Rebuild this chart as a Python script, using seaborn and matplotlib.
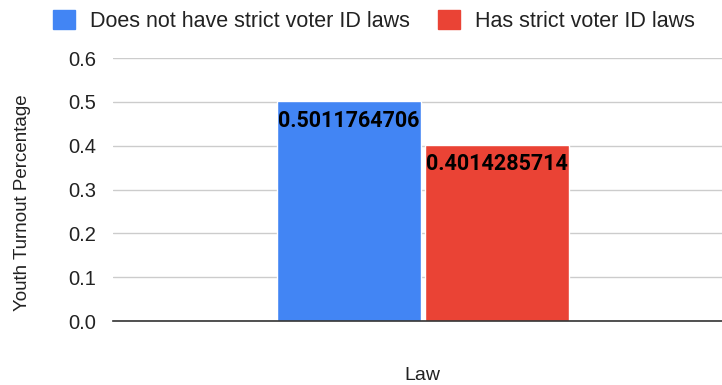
import matplotlib
matplotlib.use("Agg")
import matplotlib.pyplot as plt
import seaborn as sns
import pandas as pd
from matplotlib.patches import Patch

# Data
groups = ["Does not have strict voter ID laws", "Has strict voter ID laws"]
turnout = [0.5011764706, 0.4014285714]
category = ["Law", "Law"]
colors = ["#4285F4", "#EA4335"]

df = pd.DataFrame({"Law": category, "Group": groups, "Turnout": turnout})

sns.set_theme(style="white")
plt.rcParams["font.family"] = ["Liberation Sans", "DejaVu Sans"]

fig = plt.figure(figsize=(7.22, 3.85), dpi=100)
ax = fig.add_axes([0.1565, 0.166, 0.8435, 0.683])

sns.barplot(data=df, x="Law", y="Turnout", hue="Group", palette=colors,
            gap=0.027, width=0.81, ax=ax, legend=False, saturation=1)

ax.set_xlim(-0.849, 0.819)
ax.set_ylim(0, 0.6)
ax.set_yticks([0, 0.1, 0.2, 0.3, 0.4, 0.5, 0.6])
ax.set_yticklabels([f"{v:.1f}" for v in ax.get_yticks()], fontsize=14.5, color="#222222")
ax.set_xticks([])
ax.tick_params(axis="y", length=0, pad=12)
ax.yaxis.grid(True, color="#cccccc", linewidth=1)
ax.set_axisbelow(True)
for s in ["top", "right", "left"]:
    ax.spines[s].set_visible(False)
ax.spines["bottom"].set_color("#333333")
ax.spines["bottom"].set_linewidth(1.2)

ax.set_ylabel("Youth Turnout Percentage", fontsize=13.5, color="#222222")
ax.yaxis.set_label_coords(23 / 722, 1 - 203 / 385, transform=fig.transFigure)
ax.yaxis.label.set_va("center")
ax.set_xlabel("Law", fontsize=14, color="#222222")
ax.xaxis.set_label_coords(422 / 722, 1 - 376 / 385, transform=fig.transFigure)
ax.xaxis.label.set_va("center")

# Value labels inside the top of each bar
for patch, val in zip(ax.patches, turnout):
    cx = patch.get_x() + patch.get_width() / 2
    ax.annotate(f"{val:.10f}", xy=(cx, val), xytext=(0, -6), textcoords="offset points",
                ha="center", va="top", fontsize=15.5, fontweight="bold",
                family=["Roboto", "DejaVu Sans"], color="#000000")

# Legend across the top
handles = [Patch(facecolor=c, edgecolor=c) for c in colors]
fig.legend(handles, groups, loc="upper center", bbox_to_anchor=(0.518, 1.025), ncol=2,
           frameon=False, fontsize=15.5, handlelength=1.0, handleheight=1.0,
           columnspacing=1.3, handletextpad=0.72, labelcolor="#222222")

fig.savefig("out.png", dpi=100)
